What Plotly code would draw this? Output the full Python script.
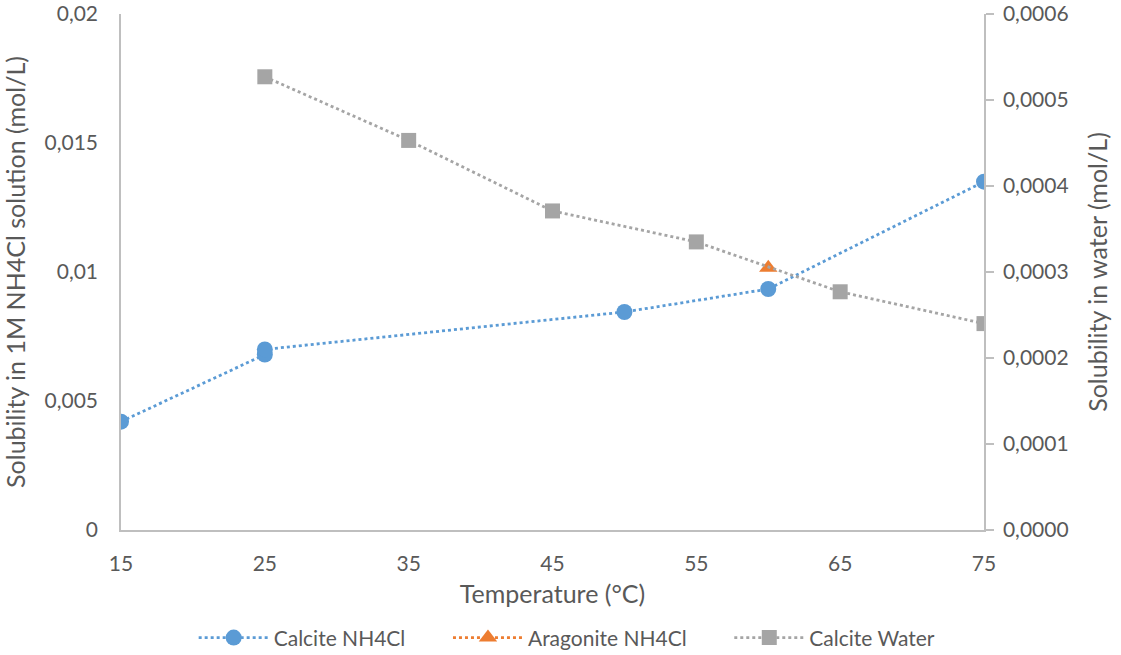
import plotly.graph_objects as go

calcite_nh4cl_t = [15, 25, 25, 50, 60, 75]
calcite_nh4cl_s = [0.0042, 0.0068, 0.0070, 0.00845, 0.00934, 0.0135]

aragonite_nh4cl_t = [60]
aragonite_nh4cl_s = [0.01016]

calcite_water_t = [25, 35, 45, 55, 65, 75]
calcite_water_s = [0.000527, 0.000453, 0.000371, 0.000335, 0.000277, 0.000240]

x_ticks = [15, 25, 35, 45, 55, 65, 75]
left_ticks = [0, 0.005, 0.01, 0.015, 0.02]
right_ticks = [0, 0.0001, 0.0002, 0.0003, 0.0004, 0.0005, 0.0006]

FONT = "Lato"
TXT = "#595959"
AX = "#BFBFBF"
PAD = "\u00a0" * 7

fig = go.Figure()
fig.add_trace(go.Scatter(
    x=calcite_nh4cl_t, y=calcite_nh4cl_s, name="Calcite NH4Cl" + PAD,
    mode="lines+markers",
    line=dict(color="#5B9BD5", width=2.8, dash="dot"),
    marker=dict(symbol="circle", size=16, color="#5B9BD5"),
))
fig.add_trace(go.Scatter(
    x=aragonite_nh4cl_t, y=aragonite_nh4cl_s, name="Aragonite NH4Cl" + PAD,
    mode="lines+markers",
    line=dict(color="#ED7D31", width=2.8, dash="dot"),
    marker=dict(symbol="triangle-up", size=16, color="#ED7D31"),
))
fig.add_trace(go.Scatter(
    x=calcite_water_t, y=calcite_water_s, name="Calcite Water",
    mode="lines+markers", yaxis="y2",
    line=dict(color="#A5A5A5", width=2.8, dash="dot"),
    marker=dict(symbol="square", size=15, color="#A5A5A5"),
))

fig.update_layout(
    width=1121, height=655,
    margin=dict(l=121, r=137, t=14, b=125),
    paper_bgcolor="white", plot_bgcolor="white",
    separators=", ",
    font=dict(family=FONT, size=21, color=TXT),
    showlegend=True,
    legend=dict(orientation="h", x=0.517, xanchor="center",
                yref="container", y=0.026, yanchor="middle",
                font=dict(size=21, color=TXT), itemwidth=70, tracegroupgap=0),
    xaxis=dict(
        range=[15, 75], tickvals=x_ticks, ticktext=[str(v) for v in x_ticks],
        showgrid=False, zeroline=False, showline=True, linecolor=AX, linewidth=1.5,
        ticks="", ticklabelstandoff=14, automargin=False, ticklabeloverflow="allow",
        title=dict(text="Temperature (°C)", font=dict(size=25, color=TXT), standoff=12),
    ),
    yaxis=dict(
        range=[0, 0.02], tickvals=left_ticks,
        ticktext=["0", "0,005", "0,01", "0,015", "0,02"],
        showgrid=False, zeroline=False, showline=True, linecolor=AX, linewidth=1.5,
        ticks="", ticklabelstandoff=17, automargin=False, ticklabeloverflow="allow",
        title=dict(text="Solubility in 1M NH4Cl solution (mol/L)", font=dict(size=25, color=TXT), standoff=14),
    ),
    yaxis2=dict(
        range=[0, 0.0006], tickvals=right_ticks,
        ticktext=["0,0000", "0,0001", "0,0002", "0,0003", "0,0004", "0,0005", "0,0006"],
        overlaying="y", side="right",
        showgrid=False, zeroline=False, showline=True, linecolor=AX, linewidth=1.5,
        ticks="outside", ticklen=8, tickcolor=AX, tickwidth=1.5, ticklabelstandoff=5,
        automargin=False, ticklabeloverflow="allow",
        title=dict(text="Solubility in water (mol/L)", font=dict(size=25, color=TXT), standoff=22),
    ),
)

fig.write_html("out.html", config={"displayModeBar": False},
               post_script="document.body.style.margin='0';")
